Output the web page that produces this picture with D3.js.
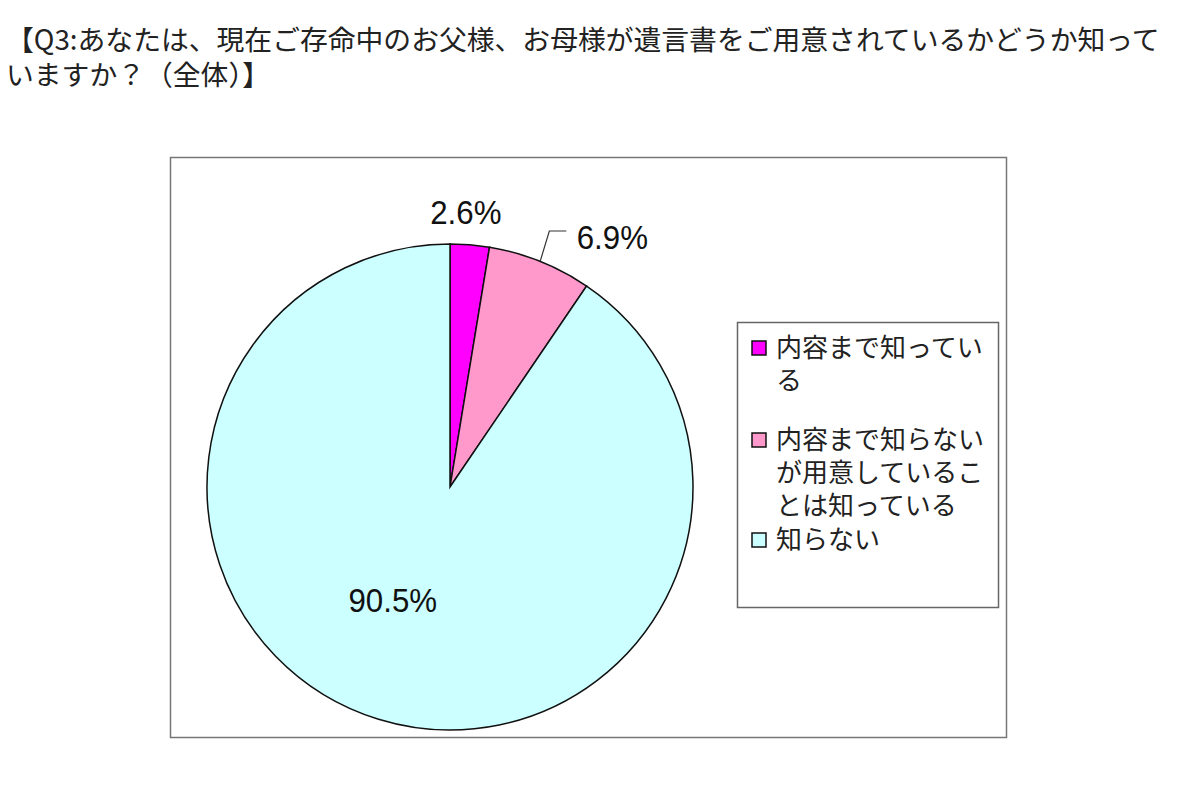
<!DOCTYPE html>
<html>
<head>
<meta charset="utf-8">
<script src="https://cdn.jsdelivr.net/npm/d3@7"></script>
<style>
  body { margin: 0; background: #fff; }
</style>
</head>
<body>
<div id="main"></div>
<script>
// データ
const titleLines = [
  "【Q3:あなたは、現在ご存命中のお父様、お母様が遺言書をご用意されているかどうか知って",
  "いますか？（全体）】"
];
const categories = ["内容まで知っている", "内容まで知らないが用意していることは知っている", "知らない"];
const values = [2.6, 6.9, 90.5];
const colors = ["#ff00ff", "#ff99cc", "#ccffff"];

const width = 1200, height = 792;
const svg = d3.select("#main").append("svg")
  .attr("width", width)
  .attr("height", height);

svg.append("rect").attr("width", width).attr("height", height).attr("fill", "#fff");

// title
const title = svg.append("text")
  .attr("x", 6)
  .attr("y", 50)
  .attr("font-family", "'Noto Sans CJK JP', sans-serif")
  .attr("font-size", 27.8)
  .attr("fill", "#222");
title.selectAll("tspan")
  .data(titleLines)
  .join("tspan")
  .attr("x", 6)
  .attr("dy", (d, i) => i === 0 ? 0 : 35)
  .text(d => d);

// plot area frame
svg.append("rect")
  .attr("x", 170.5).attr("y", 157.5)
  .attr("width", 836).attr("height", 580)
  .attr("fill", "none").attr("stroke", "#777").attr("stroke-width", 1.5);

const cx = 450, cy = 487, r = 243;
const pie = d3.pie().sort(null).value(d => d);
const arcs = pie(values);
const arc = d3.arc().innerRadius(0).outerRadius(r);

const g = svg.append("g").attr("transform", `translate(${cx},${cy})`);
g.selectAll("path")
  .data(arcs)
  .join("path")
  .attr("d", arc)
  .attr("fill", (d, i) => colors[i])
  .attr("stroke", "#111")
  .attr("stroke-width", 1.5);

// labels: placement along angle (degrees from top) and distance
const labelPos = [
  {a: 3.3, dist: 275},
  {a: 33, dist: 298},
  {a: 206.8, dist: 127}
];
const rad = a => a * Math.PI / 180;
const lx0 = i => labelPos[i].dist * Math.sin(rad(labelPos[i].a));
const ly0 = i => -labelPos[i].dist * Math.cos(rad(labelPos[i].a));

g.selectAll("text.lbl")
  .data(arcs)
  .join("text")
  .attr("class", "lbl")
  .attr("x", (d, i) => lx0(i))
  .attr("y", (d, i) => ly0(i))
  .attr("text-anchor", "middle")
  .attr("dominant-baseline", "central")
  .attr("font-family", "'Liberation Sans', Arial, sans-serif")
  .attr("font-size", 34)
  .attr("fill", "#111")
  .attr("transform", (d, i) => `translate(${lx0(i)},${ly0(i)}) scale(0.92,1) translate(${-lx0(i)},${-ly0(i)})`)
  .text(d => d.data.toFixed(1) + "%");

// leader line for 6.9%
const a2 = (arcs[1].startAngle + arcs[1].endAngle) / 2;
const p0 = [r * Math.sin(a2), -r * Math.cos(a2)];
const p1 = [r * 1.13 * Math.sin(a2 - 0.01), -r * 1.13 * Math.cos(a2 - 0.01)];
const p2 = [p1[0] + 17, p1[1]];
g.append("path")
  .attr("d", d3.line()([p0, p1, p2]))
  .attr("fill", "none")
  .attr("stroke", "#333")
  .attr("stroke-width", 1.2);

// legend
const lx = 737.5, ly = 322.5;
svg.append("rect")
  .attr("x", lx).attr("y", ly)
  .attr("width", 261).attr("height", 285)
  .attr("fill", "#fff").attr("stroke", "#666").attr("stroke-width", 1.5);

const wrap = (s, n) => {
  const out = [];
  for (let i = 0; i < s.length; i += n) out.push(s.slice(i, i + n));
  return out;
};
const itemTop = [348, 440, 540];
const lineH = 33;
const leg = svg.append("g");
categories.forEach((c, i) => {
  leg.append("rect")
    .attr("x", 752).attr("y", itemTop[i] - 7)
    .attr("width", 14).attr("height", 14)
    .attr("fill", colors[i]).attr("stroke", "#111").attr("stroke-width", 1.5);
  const t = leg.append("text")
    .attr("x", 776)
    .attr("y", itemTop[i] + 9)
    .attr("font-family", "'Noto Sans CJK JP', sans-serif")
    .attr("font-size", 26)
    .attr("fill", "#222");
  t.selectAll("tspan")
    .data(wrap(c, 8))
    .join("tspan")
    .attr("x", 776)
    .attr("dy", (d, j) => j === 0 ? 0 : lineH)
    .text(d => d);
});
</script>
</body>
</html>
